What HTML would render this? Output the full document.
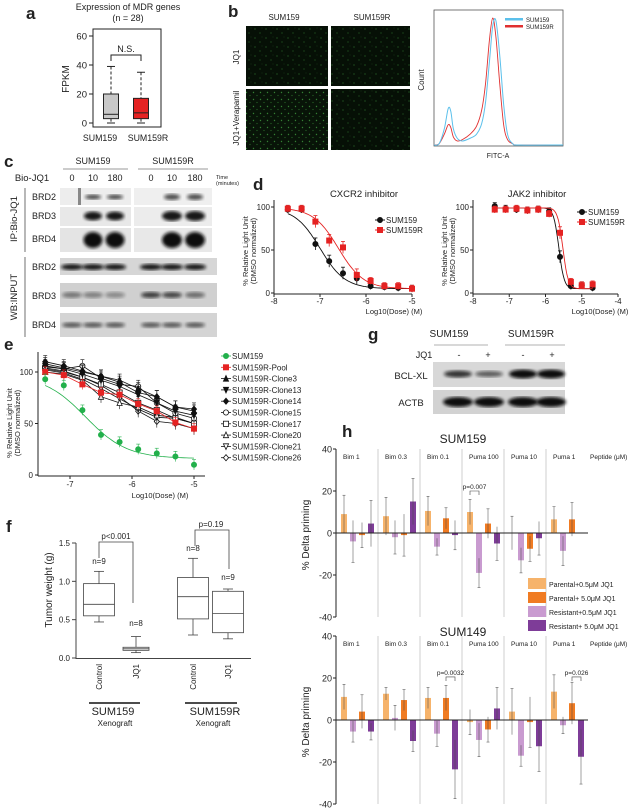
<!DOCTYPE html>
<html><head><meta charset="utf-8">
<style>
html,body{margin:0;padding:0;background:#fff;}
svg{display:block;font-family:"Liberation Sans",Arial,sans-serif;}
text{fill:#222;}
</style></head>
<body>
<svg id="fig" width="631" height="811" viewBox="0 0 631 811" xmlns="http://www.w3.org/2000/svg">
<defs>
<pattern id="dots1" width="11" height="9" patternUnits="userSpaceOnUse">
<rect width="11" height="9" fill="#061006"/>
<circle cx="2" cy="2" r="0.6" fill="#2c6e2c"/>
<circle cx="7" cy="6" r="0.6" fill="#245f25"/>
<circle cx="9" cy="1" r="0.4" fill="#1f521f"/>
</pattern>
<pattern id="dots2" width="7" height="7" patternUnits="userSpaceOnUse">
<rect width="7" height="7" fill="#081408"/>
<circle cx="1.5" cy="1.5" r="0.7" fill="#348034"/>
<circle cx="5" cy="4.5" r="0.6" fill="#286a28"/>
</pattern>
<filter id="blur1"><feGaussianBlur stdDeviation="1.6"/></filter>
</defs>

<g font-weight="bold" font-size="17">
<text x="26" y="19">a</text>
<text x="228" y="17">b</text>
<text x="4" y="167">c</text>
<text x="253" y="190">d</text>
<text x="4" y="350">e</text>
<text x="368" y="340">g</text>
<text x="342" y="437">h</text>
<text x="6" y="532">f</text>
</g>

<text x="128" y="10" font-size="9" text-anchor="middle">Expression of MDR   genes</text>
<text x="128" y="21" font-size="9" text-anchor="middle">(n = 28)</text>
<text transform="translate(69,79) rotate(-90)" font-size="10" text-anchor="middle">FPKM</text>
<g id="panelA"></g>

<text x="284" y="20" font-size="8" text-anchor="middle">SUM159</text>
<text x="372" y="20" font-size="8" text-anchor="middle">SUM159R</text>
<text transform="translate(239,57) rotate(-90)" font-size="8" text-anchor="middle">JQ1</text>
<text transform="translate(239,118) rotate(-90)" font-size="8" text-anchor="middle">JQ1+Verapamil</text>
<rect x="246" y="26" width="82" height="60" fill="url(#dots1)"/>
<rect x="331" y="26" width="79" height="60" fill="url(#dots1)"/>
<rect x="246" y="89" width="82" height="61" fill="url(#dots2)"/>
<rect x="331" y="89" width="79" height="61" fill="url(#dots1)"/>
<rect x="434" y="10" width="129" height="136" fill="none" stroke="#555" stroke-width="0.8"/>
<text transform="translate(424,80) rotate(-90)" font-size="8" text-anchor="middle">Count</text>
<text x="498" y="158" font-size="7" text-anchor="middle">FITC-A</text>
<g id="panelB"></g>
<rect x="505" y="18" width="18" height="2.5" fill="#5bc0eb"/>
<text x="526" y="22" font-size="6">SUM159</text>
<rect x="505" y="25" width="18" height="2.5" fill="#e03030"/>
<text x="526" y="29" font-size="6">SUM159R</text>

<g font-size="9">
<text x="93" y="164" text-anchor="middle">SUM159</text>
<text x="173" y="164" text-anchor="middle">SUM159R</text>
<line x1="63" y1="169" x2="128" y2="169" stroke="#777" stroke-width="0.7"/>
<line x1="138" y1="169" x2="208" y2="169" stroke="#777" stroke-width="0.7"/>
<text x="32" y="181" text-anchor="middle" font-size="9.5">Bio-JQ1</text>
<text x="72" y="181" text-anchor="middle">0</text>
<text x="93" y="181" text-anchor="middle">10</text>
<text x="115" y="181" text-anchor="middle">180</text>
<text x="151" y="181" text-anchor="middle">0</text>
<text x="172" y="181" text-anchor="middle">10</text>
<text x="195" y="181" text-anchor="middle">180</text>
<text x="216" y="179" font-size="5.5">Time</text>
<text x="216" y="185" font-size="5.5">(minutes)</text>
<text x="44" y="200" text-anchor="middle">BRD2</text>
<text x="44" y="219" text-anchor="middle">BRD3</text>
<text x="44" y="242" text-anchor="middle">BRD4</text>
<text x="44" y="270" text-anchor="middle">BRD2</text>
<text x="44" y="299" text-anchor="middle">BRD3</text>
<text x="44" y="328" text-anchor="middle">BRD4</text>
<text transform="translate(17,219) rotate(-90)" text-anchor="middle" font-size="9.5">IP:Bio-JQ1</text>
<text transform="translate(17,297) rotate(-90)" text-anchor="middle" font-size="9.5">WB:INPUT</text>
</g>
<line x1="25" y1="188" x2="25" y2="252" stroke="#333" stroke-width="0.7"/>
<line x1="25" y1="257" x2="25" y2="337" stroke="#333" stroke-width="0.7"/>
<g id="panelC"></g>

<g id="panelD"></g>
<g id="panelE"></g>

<text x="449" y="337" font-size="10" text-anchor="middle">SUM159</text>
<text x="531" y="337" font-size="10" text-anchor="middle">SUM159R</text>
<line x1="434" y1="345" x2="488" y2="345" stroke="#999" stroke-width="0.7"/>
<line x1="505" y1="345" x2="565" y2="345" stroke="#999" stroke-width="0.7"/>
<text x="424" y="358" font-size="9" text-anchor="middle">JQ1</text>
<text x="459" y="358" font-size="9" text-anchor="middle">-</text>
<text x="488" y="358" font-size="9" text-anchor="middle">+</text>
<text x="523" y="358" font-size="9" text-anchor="middle">-</text>
<text x="552" y="358" font-size="9" text-anchor="middle">+</text>
<text x="411" y="379" font-size="9.5" text-anchor="middle">BCL-XL</text>
<text x="411" y="406" font-size="9.5" text-anchor="middle">ACTB</text>
<g id="panelG"></g>

<g id="panelF"></g>
<g id="panelH"></g>
</svg>

<script>
const NS = 'http://www.w3.org/2000/svg';
function mk(parent, tag, attrs, txt) {
  const e = document.createElementNS(NS, tag);
  for (const k in attrs) e.setAttribute(k, attrs[k]);
  if (txt !== undefined) e.textContent = txt;
  parent.appendChild(e);
  return e;
}
function lin(d0, d1, r0, r1) { return v => r0 + (v - d0) * (r1 - r0) / (d1 - d0); }

const aGroups = ['SUM159', 'SUM159R'];
const aMin = [0, 0];
const aQ1 = [3, 3];
const aMed = [6, 7];
const aQ3 = [20, 17];
const aMax = [39, 35];
const aTicks = [0, 20, 40, 60];

const histX = [0, 0.04, 0.08, 0.11, 0.13, 0.15, 0.18, 0.22, 0.28, 0.33, 0.37, 0.40, 0.43, 0.455, 0.48, 0.51, 0.54, 0.57, 0.61, 0.66, 1];
const histBlue = [0, 0.01, 0.12, 0.27, 0.25, 0.12, 0.05, 0.03, 0.05, 0.08, 0.16, 0.32, 0.62, 0.88, 0.92, 0.66, 0.3, 0.08, 0.01, 0, 0];
const histRed = [0, 0.01, 0.08, 0.15, 0.13, 0.06, 0.03, 0.04, 0.08, 0.14, 0.26, 0.46, 0.78, 0.94, 0.8, 0.45, 0.15, 0.04, 0.01, 0, 0];

const dDose = [-7.7, -7.4, -7.1, -6.8, -6.5, -6.2, -5.9, -5.6, -5.3, -5.0];
const cxcr2Sum159 = [97, 97, 57, 37, 23, 17, 8, 7, 6, 5];
const cxcr2Sum159R = [98, 98, 83, 61, 53, 21, 14, 8, 8, 5];
const cxcr2Ic50 = [-7.0, -6.6];
const jakDose = [-7.4, -7.1, -6.8, -6.5, -6.2, -5.9, -5.6, -5.3, -5.0, -4.7];
const jakSum159 = [101, 98, 97, 96, 97, 95, 42, 8, 9, 6];
const jakSum159R = [97, 97, 98, 96, 97, 92, 70, 13, 9, 10];
const jakIc50 = [-5.63, -5.52];

const eDose = [-7.4, -7.1, -6.8, -6.5, -6.2, -5.9, -5.6, -5.3, -5.0];
const eNames = ['SUM159', 'SUM159R-Pool', 'SUM159R-Clone3', 'SUM159R-Clone13', 'SUM159R-Clone14', 'SUM159R-Clone15', 'SUM159R-Clone17', 'SUM159R-Clone20', 'SUM159R-Clone21', 'SUM159R-Clone26'];
const eSum159 = [93, 87, 63, 39, 32, 25, 21, 18, 10];
const ePool = [100, 97, 88, 80, 78, 69, 62, 51, 45];
const eClone3 = [108, 104, 100, 96, 92, 84, 76, 66, 62];
const eClone13 = [106, 103, 98, 92, 86, 78, 70, 62, 58];
const eClone14 = [110, 106, 101, 96, 90, 80, 76, 66, 64];
const eClone15 = [105, 103, 106, 94, 88, 86, 70, 60, 55];
const eClone17 = [104, 101, 95, 88, 80, 70, 63, 55, 50];
const eClone20 = [100, 98, 92, 76, 70, 66, 58, 56, 50];
const eClone21 = [102, 99, 93, 84, 74, 64, 56, 55, 50];
const eClone26 = [103, 100, 95, 87, 76, 62, 52, 50, 45];

const fGroups = ['SUM159 Control', 'SUM159 JQ1', 'SUM159R Control', 'SUM159R JQ1'];
const fMin = [0.47, 0.07, 0.30, 0.25];
const fQ1 = [0.55, 0.10, 0.51, 0.33];
const fMed = [0.70, 0.12, 0.80, 0.58];
const fQ3 = [0.97, 0.14, 1.05, 0.87];
const fMax = [1.13, 0.28, 1.30, 0.90];
const fN = ['n=9', 'n=8', 'n=8', 'n=9'];
const fTicks = [0.0, 0.5, 1.0, 1.5];

const hGroups = ['Bim 1', 'Bim 0.3', 'Bim 0.1', 'Puma 100', 'Puma 10', 'Puma 1'];
const hSeries = ['Parental+0.5\u03bcM JQ1', 'Resistant+0.5\u03bcM JQ1', 'Parental+ 5.0\u03bcM JQ1', 'Resistant+ 5.0\u03bcM JQ1'];
const h159P05 = [9, 8, 10.5, 10, 0, 6.5];
const h159R05 = [-4, -2, -6.5, -19, -13, -8.5];
const h159P5 = [-1, -1, 7, 4.5, -7.5, 6.5];
const h159R5 = [4.5, 15, -1, -5, -2.5, 0];
const h159Err = [[9, 9, 7, 6, 8, 6], [10, 8, 4, 7, 6, 7], [6, 10, 5, 7, 6, 8], [11, 11, 7, 8, 8, 0]];
const h149P05 = [11, 12.5, 10.5, -1, 4, 13.5];
const h149R05 = [-5.5, 1, -6.5, -9.5, -17, -2.5];
const h149P5 = [4, 9.5, 10.5, -4.5, -1, 8];
const h149R5 = [-5.5, -10, -23.5, 5.5, -12.5, -17.5];
const h149Err = [[6, 3, 5, 6, 11, 8], [5, 6, 6, 8, 5, 4], [8, 5, 6, 6, 12, 10], [4, 5, 14, 10, 12, 13]];
const hTicks = [-40, -20, 0, 20, 40];

(function () {
  const g = document.getElementById('panelA');
  const y = lin(0, 60, 123, 36);
  const fr = mk(g, 'rect', { x: 93, y: 29, width: 68, height: 98, fill: 'none', stroke: '#222', 'stroke-width': 1 });
  
  
  aTicks.forEach(t => {
    mk(g, 'line', { x1: 89, x2: 93, y1: y(t), y2: y(t), stroke: '#222' });
    const tl = mk(g, 'text', { x: 87, y: y(t) + 3.5, 'font-size': 9.5, 'text-anchor': 'end' }, t);
    
    
  });
  const cx = [111, 141];
  const lx = [100, 148];
  const fills = ['#c8c8c8', '#e52222'];
  aGroups.forEach((nm, i) => {
    const w = 15;
    mk(g, 'line', { x1: cx[i], x2: cx[i], y1: y(aMax[i]), y2: y(aQ3[i]), stroke: '#222', 'stroke-dasharray': '3,2' });
    mk(g, 'line', { x1: cx[i], x2: cx[i], y1: y(aQ1[i]), y2: y(aMin[i]), stroke: '#222', 'stroke-dasharray': '3,2' });
    mk(g, 'line', { x1: cx[i] - 4, x2: cx[i] + 4, y1: y(aMax[i]), y2: y(aMax[i]), stroke: '#222' });
    mk(g, 'line', { x1: cx[i] - 4, x2: cx[i] + 4, y1: y(aMin[i]), y2: y(aMin[i]), stroke: '#222' });
    const b = mk(g, 'rect', { x: cx[i] - w / 2, y: y(aQ3[i]), width: w, height: y(aQ1[i]) - y(aQ3[i]), fill: fills[i], stroke: '#222' });
    
    
    mk(g, 'line', { x1: cx[i] - w / 2, x2: cx[i] + w / 2, y1: y(aMed[i]), y2: y(aMed[i]), stroke: '#222' });
    const lb = mk(g, 'text', { x: lx[i], y: 141, 'font-size': 8.8, 'text-anchor': 'middle' }, nm);
    
    
  });
  mk(g, 'path', { d: 'M111,61 V55 H141 V61', fill: 'none', stroke: '#222' });
  const ns = mk(g, 'text', { x: 126, y: 52, 'font-size': 9, 'text-anchor': 'middle' }, 'N.S.');
  
  
})();

(function () {
  const g = document.getElementById('panelB');
  const x = lin(0, 1, 434, 563), y = lin(0, 1, 145, 10);
  function smooth(vals) {
    const pts = histX.map((v, i) => [x(v), y(vals[i])]);
    let d = 'M' + pts[0][0] + ',' + pts[0][1];
    for (let i = 0; i < pts.length - 1; i++) {
      const p0 = pts[Math.max(i - 1, 0)], p1 = pts[i], p2 = pts[i + 1], p3 = pts[Math.min(i + 2, pts.length - 1)];
      const c1 = [p1[0] + (p2[0] - p0[0]) / 6, p1[1] + (p2[1] - p0[1]) / 6];
      const c2 = [p2[0] - (p3[0] - p1[0]) / 6, p2[1] - (p3[1] - p1[1]) / 6];
      d += ' C' + c1 + ' ' + c2 + ' ' + p2;
    }
    return d;
  }
  const r = mk(g, 'path', { d: smooth(histRed), fill: 'none', stroke: '#e03030', 'stroke-width': 0.9 });
  
  
  const b = mk(g, 'path', { d: smooth(histBlue), fill: 'none', stroke: '#5bc0eb', 'stroke-width': 1 });
  
  
})();

(function () {
  const g = document.getElementById('panelC');
  function panel(x, y, w, h, bg, nm) {
    const r = mk(g, 'rect', { x: x, y: y, width: w, height: h, fill: bg });
    
    
  }
  function band(cx, cy, rx, ry, op) {
    mk(g, 'ellipse', { cx: cx, cy: cy, rx: rx, ry: ry, fill: '#111', opacity: op, filter: 'url(#blur1)' });
  }
  const lanesL = [72, 93, 115], lanesR = [151, 172, 195];
  panel(60, 188, 71, 17, '#ededed', 'blot-ip-brd2-sum159');
  panel(134, 188, 78, 17, '#efefef', 'blot-ip-brd2-sum159r');
  panel(60, 207, 71, 19, '#e8e8e8', 'blot-ip-brd3-sum159');
  panel(134, 207, 78, 19, '#ececec', 'blot-ip-brd3-sum159r');
  panel(60, 228, 71, 24, '#e4e4e4', 'blot-ip-brd4-sum159');
  panel(134, 228, 78, 24, '#e8e8e8', 'blot-ip-brd4-sum159r');
  mk(g, 'rect', { x: 78, y: 188, width: 3, height: 17, fill: '#444', opacity: 0.6 });
  [1, 2].forEach(i => { band(lanesL[i], 197, 8, 2.5, 0.7); band(lanesR[i], 197, 8, 3, 0.7); });
  [1, 2].forEach(i => { band(lanesL[i], 216, 9, 4.5, 0.95); band(lanesR[i], 216, 10, 5, 0.95); });
  [1, 2].forEach(i => { band(lanesL[i], 240, 9.5, 8, 1); band(lanesR[i], 240, 10, 8, 1); });
  panel(60, 258, 157, 17, '#d6d6d6', 'blot-input-brd2');
  panel(60, 283, 157, 24, '#d0d0d0', 'blot-input-brd3');
  panel(60, 313, 157, 24, '#d4d4d4', 'blot-input-brd4');
  const all = lanesL.concat(lanesR);
  all.forEach(cx => band(cx, 267, 11, 3, 0.95));
  const b3 = [0.45, 0.4, 0.35, 0.75, 0.7, 0.5];
  all.forEach((cx, i) => band(cx, 295, 10, 3, b3[i]));
  all.forEach(cx => band(cx, 325, 10, 2.6, 0.6));
})();

function logistic(x, top, bot, ic, hill) { return bot + (top - bot) / (1 + Math.pow(10, (x - ic) * hill)); }
function marker(g, shape, cx, cy, col, filled) {
  const s = 2.6;
  let e;
  const f = filled ? col : '#fff';
  if (shape === 'circle') e = mk(g, 'circle', { cx: cx, cy: cy, r: s, fill: f, stroke: col, 'stroke-width': 0.8 });
  else if (shape === 'square') e = mk(g, 'rect', { x: cx - s, y: cy - s, width: 2 * s, height: 2 * s, fill: f, stroke: col, 'stroke-width': 0.8 });
  else if (shape === 'tri') e = mk(g, 'path', { d: `M${cx},${cy - s - 0.5} L${cx + s},${cy + s} L${cx - s},${cy + s}Z`, fill: f, stroke: col, 'stroke-width': 0.8 });
  else if (shape === 'dtri') e = mk(g, 'path', { d: `M${cx},${cy + s + 0.5} L${cx + s},${cy - s} L${cx - s},${cy - s}Z`, fill: f, stroke: col, 'stroke-width': 0.8 });
  else e = mk(g, 'path', { d: `M${cx},${cy - s - 0.5} L${cx + s},${cy} L${cx},${cy + s + 0.5} L${cx - s},${cy}Z`, fill: f, stroke: col, 'stroke-width': 0.8 });
  return e;
}
(function () {
  const g = document.getElementById('panelD');
  function chart(opt) {
    const x = lin(opt.xmin, opt.xmax, opt.x0, opt.x1), y = lin(0, 100, 293, 207);
    mk(g, 'line', { x1: opt.x0, x2: opt.x0, y1: 200, y2: 294, stroke: '#222' });
    mk(g, 'line', { x1: opt.x0, x2: opt.x1, y1: 294, y2: 294, stroke: '#222' });
    [0, 50, 100].forEach(t => {
      mk(g, 'line', { x1: opt.x0 - 3, x2: opt.x0, y1: y(t), y2: y(t), stroke: '#222' });
      const tl = mk(g, 'text', { x: opt.x0 - 4, y: y(t) + 3, 'font-size': 8, 'text-anchor': 'end' }, t);
      
      
    });
    for (let t = opt.xmin; t <= opt.xmax; t++) {
      mk(g, 'line', { x1: x(t), x2: x(t), y1: 294, y2: 297, stroke: '#222' });
      const tl = mk(g, 'text', { x: x(t), y: 304, 'font-size': 8, 'text-anchor': 'middle' }, t);
      
      
    }
    const ti = mk(g, 'text', { x: opt.tx, y: 197, 'font-size': 9.5, 'text-anchor': 'middle' }, opt.title);
    
    
    const xl = mk(g, 'text', { x: opt.x1 - 18, y: 314, 'font-size': 7.5, 'text-anchor': 'middle' }, 'Log10(Dose) (M)');
    
    
    const yl = mk(g, 'text', { transform: `translate(${opt.x0 - 26},251) rotate(-90)`, 'font-size': 7.5, 'text-anchor': 'middle' }, '% Relative Light Unit');
    
    
    const yl2 = mk(g, 'text', { transform: `translate(${opt.x0 - 18},251) rotate(-90)`, 'font-size': 7.5, 'text-anchor': 'middle' }, '(DMSO normalized)');
    
    
    const series = [{ v: opt.s1, c: '#111', sh: 'circle', ic: opt.ic[0], nm: 'SUM159' }, { v: opt.s2, c: '#e52222', sh: 'square', ic: opt.ic[1], nm: 'SUM159R' }];
    series.forEach((s, si) => {
      let d = '';
      for (let i = 0; i <= 80; i++) {
        const xv = opt.dose[0] + (opt.dose[opt.dose.length - 1] - opt.dose[0]) * i / 80;
        d += (i ? ' L' : 'M') + x(xv).toFixed(1) + ',' + y(logistic(xv, 99, 5, s.ic, opt.hill)).toFixed(1);
      }
      const cu = mk(g, 'path', { d: d, fill: 'none', stroke: s.c, 'stroke-width': 0.9 });
      
      
      opt.dose.forEach((dv, i) => {
        const err = s.v[i] > 15 && s.v[i] < 90 ? 7 : 4;
        mk(g, 'line', { x1: x(dv), x2: x(dv), y1: y(s.v[i] + err), y2: y(s.v[i] - err), stroke: s.c, 'stroke-width': 0.8 });
        mk(g, 'line', { x1: x(dv) - 2, x2: x(dv) + 2, y1: y(s.v[i] + err), y2: y(s.v[i] + err), stroke: s.c, 'stroke-width': 0.8 });
        const m = marker(g, s.sh, x(dv), y(s.v[i]), s.c, true);
        
        
      });
      const ly = opt.ly + si * 10;
      mk(g, 'line', { x1: opt.lx - 5, x2: opt.lx + 5, y1: ly, y2: ly, stroke: s.c });
      marker(g, s.sh, opt.lx, ly, s.c, true);
      const lt = mk(g, 'text', { x: opt.lx + 6, y: ly + 3, 'font-size': 8 }, s.nm);
      
      
    });
  }
  chart({ x0: 274, x1: 412, xmin: -8, xmax: -5, tx: 364, title: 'CXCR2 inhibitor', s1: cxcr2Sum159, s2: cxcr2Sum159R, dose: dDose, ic: cxcr2Ic50, hill: 1.6, lx: 380, ly: 220 });
  chart({ x0: 473, x1: 618, xmin: -8, xmax: -4, tx: 537, title: 'JAK2 inhibitor', s1: jakSum159, s2: jakSum159R, dose: jakDose, ic: jakIc50, hill: 6, lx: 582, ly: 212 });
})();

(function () {
  const g = document.getElementById('panelE');
  const x = lin(-7, -5, 70, 194), y = lin(0, 100, 475, 372);
  mk(g, 'line', { x1: 38, x2: 38, y1: 352, y2: 476, stroke: '#222' });
  mk(g, 'line', { x1: 38, x2: 205, y1: 476, y2: 476, stroke: '#222' });
  [0, 50, 100].forEach(t => {
    mk(g, 'line', { x1: 35, x2: 38, y1: y(t), y2: y(t), stroke: '#222' });
    const tl = mk(g, 'text', { x: 33, y: y(t) + 3, 'font-size': 8, 'text-anchor': 'end' }, t);
    
    
  });
  [-7, -6, -5].forEach(t => {
    mk(g, 'line', { x1: x(t), x2: x(t), y1: 476, y2: 479, stroke: '#222' });
    const tl = mk(g, 'text', { x: x(t), y: 487, 'font-size': 8, 'text-anchor': 'middle' }, t);
    
    
  });
  const xl = mk(g, 'text', { x: 160, y: 498, 'font-size': 7.5, 'text-anchor': 'middle' }, 'Log10(Dose) (M)');
  
  
  const yl = mk(g, 'text', { transform: 'translate(12,423) rotate(-90)', 'font-size': 7.5, 'text-anchor': 'middle' }, '% Relative Light Unit');
  
  
  const yl2 = mk(g, 'text', { transform: 'translate(20,423) rotate(-90)', 'font-size': 7.5, 'text-anchor': 'middle' }, '(DMSO normalized)');
  
  
  const data = [eSum159, ePool, eClone3, eClone13, eClone14, eClone15, eClone17, eClone20, eClone21, eClone26];
  const cols = ['#22b04b', '#e52222', '#111', '#111', '#111', '#111', '#111', '#111', '#111', '#111'];
  const shapes = ['circle', 'square', 'tri', 'dtri', 'dia', 'circle', 'square', 'tri', 'dtri', 'dia'];
  const filled = [true, true, true, true, true, false, false, false, false, false];
  for (let si = data.length - 1; si >= 0; si--) {
    const v = data[si];
    let d = '';
    if (si === 0) {
      for (let i = 0; i <= 60; i++) {
        const xv = -7.4 + 2.4 * i / 60;
        d += (i ? ' L' : 'M') + x(xv).toFixed(1) + ',' + y(logistic(xv, 97, 16, -6.75, 1.3)).toFixed(1);
      }
    } else {
      d = eDose.map((dv, i) => (i ? 'L' : 'M') + x(dv).toFixed(1) + ',' + y(v[i]).toFixed(1)).join(' ');
    }
    const ln = mk(g, 'path', { d: d, fill: 'none', stroke: cols[si], 'stroke-width': 0.8 });
    
    
    eDose.forEach((dv, i) => {
      const err = si < 2 ? 5 : 6;
      mk(g, 'line', { x1: x(dv), x2: x(dv), y1: y(v[i] + err), y2: y(v[i] - err), stroke: cols[si], 'stroke-width': 0.6 });
      mk(g, 'line', { x1: x(dv) - 2, x2: x(dv) + 2, y1: y(v[i] + err), y2: y(v[i] + err), stroke: cols[si], 'stroke-width': 0.6 });
      const m = marker(g, shapes[si], x(dv), y(v[i]), cols[si], filled[si]);
      
      
    });
  }
  eNames.forEach((nm, si) => {
    const ly = 356 + si * 11.3;
    mk(g, 'line', { x1: 221, x2: 231, y1: ly, y2: ly, stroke: cols[si], 'stroke-width': 0.8 });
    marker(g, shapes[si], 226, ly, cols[si], filled[si]);
    const lt = mk(g, 'text', { x: 232, y: ly + 3, 'font-size': 8 }, nm);
    
    
  });
})();

(function () {
  const g = document.getElementById('panelG');
  const r1 = mk(g, 'rect', { x: 433, y: 362, width: 132, height: 25, fill: '#d8d8d8' });
  
  
  const r2 = mk(g, 'rect', { x: 433, y: 390, width: 132, height: 24, fill: '#d2d2d2' });
  
  
  const lanes = [458, 489, 523, 551], bop = [0.8, 0.6, 1, 1], bry = [3.5, 3, 4.5, 4.5];
  lanes.forEach((cx, i) => mk(g, 'ellipse', { cx: cx, cy: 374, rx: 14, ry: bry[i], fill: '#111', opacity: bop[i], filter: 'url(#blur1)' }));
  lanes.forEach(cx => mk(g, 'ellipse', { cx: cx, cy: 402, rx: 15, ry: 5, fill: '#111', opacity: 1, filter: 'url(#blur1)' }));
})();

(function () {
  const g = document.getElementById('panelF');
  const y = lin(0, 1.5, 658, 543);
  mk(g, 'line', { x1: 76, x2: 76, y1: 543, y2: 659, stroke: '#444' });
  mk(g, 'line', { x1: 76, x2: 251, y1: 658.5, y2: 658.5, stroke: '#444' });
  fTicks.forEach(t => {
    mk(g, 'line', { x1: 72, x2: 76, y1: y(t), y2: y(t), stroke: '#444' });
    const tl = mk(g, 'text', { x: 70, y: y(t) + 3, 'font-size': 8, 'text-anchor': 'end' }, t.toFixed(1));
    
    
  });
  const yl = mk(g, 'text', { transform: 'translate(52,590) rotate(-90)', 'font-size': 10, 'text-anchor': 'middle' }, 'Tumor weight (g)');
  
  
  const cx = [99, 136, 193, 228], w = [31, 26, 31, 31];
  const xlab = ['Control', 'JQ1', 'Control', 'JQ1'];
  const nY = [564, 626, 551, 580];
  fGroups.forEach((nm, i) => {
    mk(g, 'line', { x1: cx[i], x2: cx[i], y1: y(fMax[i]), y2: y(fMin[i]), stroke: '#444', 'stroke-width': 0.8 });
    mk(g, 'line', { x1: cx[i] - 5, x2: cx[i] + 5, y1: y(fMax[i]), y2: y(fMax[i]), stroke: '#444', 'stroke-width': 0.8 });
    mk(g, 'line', { x1: cx[i] - 5, x2: cx[i] + 5, y1: y(fMin[i]), y2: y(fMin[i]), stroke: '#444', 'stroke-width': 0.8 });
    const b = mk(g, 'rect', { x: cx[i] - w[i] / 2, y: y(fQ3[i]), width: w[i], height: y(fQ1[i]) - y(fQ3[i]), fill: '#fff', stroke: '#444', 'stroke-width': 0.8 });
    
    
    mk(g, 'line', { x1: cx[i] - w[i] / 2, x2: cx[i] + w[i] / 2, y1: y(fMed[i]), y2: y(fMed[i]), stroke: '#444', 'stroke-width': 0.8 });
    const nl = mk(g, 'text', { x: cx[i], y: nY[i], 'font-size': 8, 'text-anchor': 'middle' }, fN[i]);
    
    
    const xl = mk(g, 'text', { transform: `translate(${cx[i] + 3},664) rotate(-90)`, 'font-size': 8, 'text-anchor': 'end' }, xlab[i]);
    
    
  });
  mk(g, 'path', { d: 'M99,558 V542 H133 V603', fill: 'none', stroke: '#444', 'stroke-width': 0.8 });
  mk(g, 'path', { d: 'M195,546 V530 H229 V569', fill: 'none', stroke: '#444', 'stroke-width': 0.8 });
  const p1 = mk(g, 'text', { x: 116, y: 539, 'font-size': 8, 'text-anchor': 'middle' }, 'p<0.001');
  
  
  const p2 = mk(g, 'text', { x: 211, y: 527, 'font-size': 8, 'text-anchor': 'middle' }, 'p=0.19');
  
  
  mk(g, 'line', { x1: 89, x2: 140, y1: 703, y2: 703, stroke: '#111', 'stroke-width': 1.5 });
  mk(g, 'line', { x1: 185, x2: 237, y1: 703, y2: 703, stroke: '#111', 'stroke-width': 1.5 });
  const s1 = mk(g, 'text', { x: 113, y: 715, 'font-size': 11, 'text-anchor': 'middle' }, 'SUM159');
  
  
  const s2 = mk(g, 'text', { x: 215, y: 715, 'font-size': 11, 'text-anchor': 'middle' }, 'SUM159R');
  
  
  const x1 = mk(g, 'text', { x: 115, y: 726, 'font-size': 8, 'text-anchor': 'middle' }, 'Xenograft');
  
  
  const x2 = mk(g, 'text', { x: 213, y: 726, 'font-size': 8, 'text-anchor': 'middle' }, 'Xenograft');
  
  
})();

(function () {
  const g = document.getElementById('panelH');
  const colors = ['#f6b36b', '#c99bd0', '#f07b22', '#7e3c98'];
  const gx0 = 336, gw = 42;
  const offs = [8, 17, 26, 35];
  function chart(y0, title, vals, errs, titleY, pvals) {
    const y = lin(0, 40, y0, y0 - 84);
    const ti = mk(g, 'text', { x: 463, y: titleY, 'font-size': 12, 'text-anchor': 'middle' }, title);
    
    
    for (let i = 1; i < hGroups.length; i++) {
      mk(g, 'line', { x1: gx0 + i * gw, x2: gx0 + i * gw, y1: y(40), y2: y(-40), stroke: '#bbb', 'stroke-width': 0.7 });
    }
    hGroups.forEach((nm, i) => {
      const gl = mk(g, 'text', { x: gx0 + i * gw + 7, y: y(40) + 10, 'font-size': 6.5 }, nm);
      
      
    });
    const pl = mk(g, 'text', { x: 590, y: y(40) + 10, 'font-size': 6.5 }, 'Peptide (\u03bcM)');
    
    
    mk(g, 'line', { x1: gx0, x2: gx0, y1: y(40), y2: y(-40), stroke: '#222' });
    hTicks.forEach(t => {
      mk(g, 'line', { x1: gx0 - 3, x2: gx0, y1: y(t), y2: y(t), stroke: '#222' });
      const tl = mk(g, 'text', { x: gx0 - 4, y: y(t) + 3.5, 'font-size': 9, 'text-anchor': 'end' }, t);
      
      
    });
    const yl = mk(g, 'text', { transform: `translate(309,${y(0) + 2}) rotate(-90)`, 'font-size': 10, 'text-anchor': 'middle' }, '% Delta priming');
    
    
    vals.forEach((ser, si) => {
      ser.forEach((v, i) => {
        const bx = gx0 + i * gw + offs[si] - 3;
        const top = Math.min(y(v), y(0)), h = Math.abs(y(v) - y(0));
        const r = mk(g, 'rect', { x: bx, y: top, width: 6, height: Math.max(h, 0.5), fill: colors[si] });
        
        
        const e = errs[si][i];
        if (e > 0) {
          const dir = v >= 0 ? 1 : -1;
          mk(g, 'line', { x1: bx + 3, x2: bx + 3, y1: y(v - e), y2: y(v + e), stroke: '#444', 'stroke-width': 0.5 });
          mk(g, 'line', { x1: bx + 1.5, x2: bx + 4.5, y1: y(v + dir * e), y2: y(v + dir * e), stroke: '#444', 'stroke-width': 0.5 });
        }
      });
    });
    mk(g, 'line', { x1: gx0, x2: 588, y1: y(0), y2: y(0), stroke: '#222' });
    pvals.forEach(p => {
      const bx = gx0 + p.gi * gw;
      mk(g, 'path', { d: `M${bx + p.a},${y(p.v) + 4} V${y(p.v)} H${bx + p.b} V${y(p.v) + 4}`, fill: 'none', stroke: '#444', 'stroke-width': 0.6 });
      const t = mk(g, 'text', { x: bx + (p.a + p.b) / 2, y: y(p.v) - 2, 'font-size': 6.5, 'text-anchor': 'middle' }, p.t);
      
      
    });
  }
  chart(533, 'SUM159', [h159P05, h159R05, h159P5, h159R5], h159Err, 443, [{ gi: 3, a: 8, b: 17, v: 20, t: 'p=0.007' }]);
  chart(720, 'SUM149', [h149P05, h149R05, h149P5, h149R5], h149Err, 636, [{ gi: 2, a: 26, b: 35, v: 20.5, t: 'p=0.0032' }, { gi: 5, a: 26, b: 35, v: 20.5, t: 'p=0.026' }]);
  const lorder = [0, 2, 1, 3];
  lorder.forEach((si, k) => {
    const ly = 584 + k * 14;
    const sw = mk(g, 'rect', { x: 528, y: ly - 6, width: 18, height: 11, fill: colors[si] });
    
    
    const lt = mk(g, 'text', { x: 549, y: ly + 3, 'font-size': 7 }, hSeries[si]);
    
    
  });
})();
</script>
</body></html>
